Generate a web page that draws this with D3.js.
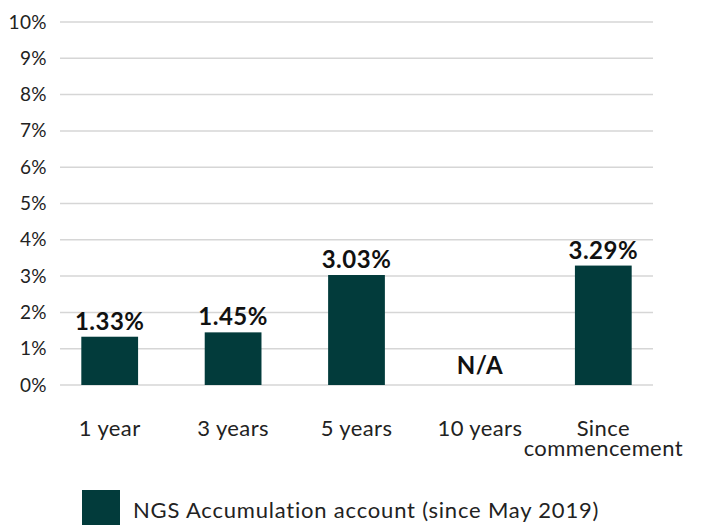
<!DOCTYPE html>
<html>
<head>
<meta charset="utf-8">
<script src="https://cdn.jsdelivr.net/npm/d3@7"></script>
<style>
  body { margin: 0; background: #fff; }
  svg { display: block; font-family: Lato, "Open Sans", sans-serif; }
</style>
</head>
<body>
<svg id="chart" width="704" height="525"></svg>
<script>
var categories = ["1 year", "3 years", "5 years", "10 years", "Since\ncommencement"];
var returns = [1.33, 1.45, 3.03, null, 3.29];
var labels = ["1.33%", "1.45%", "3.03%", "N/A", "3.29%"];
var yTicks = [0, 1, 2, 3, 4, 5, 6, 7, 8, 9, 10];
var seriesName = "NGS Accumulation account (since May 2019)";

var barColor = "#023b3b";
var svg = d3.select("#chart");

var x = d3.scaleBand()
    .domain(categories)
    .range([48, 665])
    .paddingInner(0.54)
    .paddingOuter(0.27);

var y = d3.scaleLinear()
    .domain([0, 10])
    .range([385, 22]);

// gridlines
svg.append("g")
  .selectAll("line")
  .data(yTicks)
  .enter().append("line")
    .attr("x1", 60)
    .attr("x2", 653)
    .attr("y1", function (d) { return y(d); })
    .attr("y2", function (d) { return y(d); })
    .attr("stroke", "#d6d6d6")
    .attr("stroke-width", 1.5);

// y axis labels
var yAxis = d3.axisLeft(y)
    .tickValues(yTicks)
    .tickFormat(function (d) { return d + "%"; })
    .tickSize(0)
    .tickPadding(0);

var ya = svg.append("g")
    .attr("transform", "translate(47,0)")
    .call(yAxis);
ya.select(".domain").remove();
ya.selectAll("text")
    .attr("font-family", "Lato, sans-serif")
    .attr("font-size", 19)
    .attr("letter-spacing", 0.4)
    .attr("fill", "#222");

// bars
var data = categories.map(function (c, i) {
  return { cat: c, value: returns[i], label: labels[i] };
});

svg.append("g")
  .selectAll("rect")
  .data(data.filter(function (d) { return d.value != null; }))
  .enter().append("rect")
    .attr("x", function (d) { return x(d.cat); })
    .attr("y", function (d) { return y(d.value); })
    .attr("width", x.bandwidth())
    .attr("height", function (d) { return y(0) - y(d.value); })
    .attr("fill", barColor);

// value labels
svg.append("g")
  .selectAll("text")
  .data(data)
  .enter().append("text")
    .attr("x", function (d) { return x(d.cat) + x.bandwidth() / 2; })
    .attr("y", function (d) { return d.value == null ? y(0) - 11 : y(d.value) - 7; })
    .attr("text-anchor", "middle")
    .attr("font-size", 24)
    .attr("font-weight", "bold")
    .attr("letter-spacing", 0.5)
    .attr("fill", "#111")
    .text(function (d) { return d.label; });

// category labels
var cats = svg.append("g")
  .selectAll("text")
  .data(categories)
  .enter().append("text")
    .attr("x", function (d) { return x(d) + x.bandwidth() / 2; })
    .attr("y", 436)
    .attr("text-anchor", "middle")
    .attr("font-size", 22)
    .attr("letter-spacing", 0.4)
    .attr("fill", "#222");

cats.selectAll("tspan")
  .data(function (d) { return d.split("\n"); })
  .enter().append("tspan")
    .attr("x", function () { return d3.select(this.parentNode).attr("x"); })
    .attr("dy", function (d, i) { return i === 0 ? 0 : 20; })
    .text(function (d) { return d; });

// legend
svg.append("rect")
    .attr("x", 82)
    .attr("y", 490)
    .attr("width", 38)
    .attr("height", 36)
    .attr("fill", barColor);

svg.append("text")
    .attr("x", 133)
    .attr("y", 518)
    .attr("font-size", 22)
    .attr("letter-spacing", 0.8)
    .attr("fill", "#222")
    .text(seriesName);
</script>
</body>
</html>
